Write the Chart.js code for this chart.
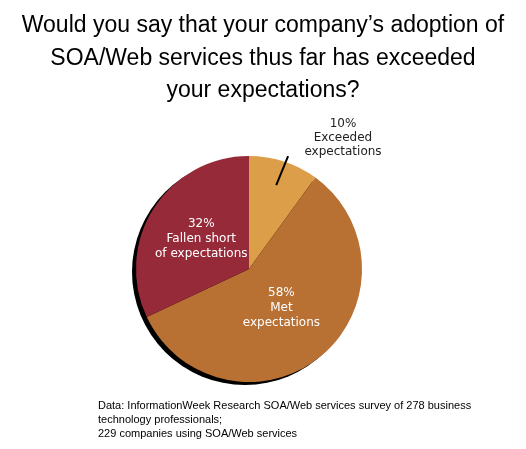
<!DOCTYPE html>
<html>
<head>
<meta charset="utf-8">
<script src="https://cdn.jsdelivr.net/npm/chart.js@4"></script>
<style>
  body { margin: 0; background: #fff; font-family: "Liberation Sans", Arial, sans-serif; }
  #wrap { position: relative; width: 526px; height: 449px; }
  #title { position: absolute; top: 8px; left: 0; width: 526px; text-align: center; font-size: 23px; line-height: 32.5px; color: #000; }
  #note { position: absolute; left: 98px; top: 398px; font-size: 11px; line-height: 14px; color: #000; }
  canvas { position: absolute; left: 0; top: 0; }
</style>
</head>
<body>
<div id="wrap">
  <canvas id="pieChart" width="526" height="449"></canvas>
  <div id="title">Would you say that your company’s adoption of<br>SOA/Web services thus far has exceeded<br>your expectations?</div>
  <div id="note">Data: InformationWeek Research SOA/Web services survey of 278 business<br>technology professionals;<br>229 companies using SOA/Web services</div>
</div>
<script>
const categories = ['Exceeded expectations', 'Met expectations', 'Fallen short of expectations'];
const shares = [10, 58, 32];
const labelLines = [['10%', 'Exceeded', 'expectations'], ['58%', 'Met', 'expectations'], ['32%', 'Fallen short', 'of expectations']];
const colors = ['#DC9E48', '#B87033', '#962A38'];

// black offset shadow behind the pie
const shadow = {
  id: 'shadow',
  beforeDatasetsDraw(c) {
    const arc = c.getDatasetMeta(0).data[0];
    const ctx = c.ctx;
    ctx.save();
    ctx.fillStyle = '#000';
    ctx.beginPath();
    ctx.arc(arc.x - 4, arc.y + 3, arc.outerRadius, 0, Math.PI * 2);
    ctx.fill();
    ctx.restore();
  }
};

// slice labels, first one outside with a leader line
const sliceLabels = {
  id: 'sliceLabels',
  afterDatasetsDraw(c) {
    const ctx = c.ctx;
    ctx.save();
    ctx.font = '12px "DejaVu Sans", sans-serif';
    ctx.textAlign = 'center';
    ctx.textBaseline = 'middle';
    c.getDatasetMeta(0).data.forEach((arc, i) => {
      const mid = (arc.startAngle + arc.endAngle) / 2;
      const r = arc.outerRadius;
      if (i === 0) {
        ctx.strokeStyle = '#000';
        ctx.lineWidth = 2;
        ctx.beginPath();
        ctx.moveTo(arc.x + Math.cos(mid) * r * 0.78, arc.y + Math.sin(mid) * r * 0.78);
        ctx.lineTo(arc.x + Math.cos(mid) * r * 1.12, arc.y + Math.sin(mid) * r * 1.05);
        ctx.stroke();
        ctx.fillStyle = '#222';
        labelLines[i].forEach((t, k) => ctx.fillText(t, 343, 124 + k * 14));
      } else {
        const f = i === 1 ? 0.45 : 0.5;
        const x = arc.x + Math.cos(mid) * r * f;
        const y = arc.y + Math.sin(mid) * r * f;
        ctx.fillStyle = '#fff';
        labelLines[i].forEach((t, k) => ctx.fillText(t, x, y + (k - 1) * 15));
      }
    });
    ctx.restore();
  }
};

new Chart(document.getElementById('pieChart'), {
  type: 'pie',
  data: {
    labels: categories,
    datasets: [{ data: shares, backgroundColor: colors, borderWidth: 0 }]
  },
  options: {
    responsive: false,
    animation: false,
    layout: { padding: { left: 136, right: 164, top: 156, bottom: 67 } },
    plugins: { legend: { display: false }, tooltip: { enabled: false } }
  },
  plugins: [shadow, sliceLabels]
});
</script>
</body>
</html>
